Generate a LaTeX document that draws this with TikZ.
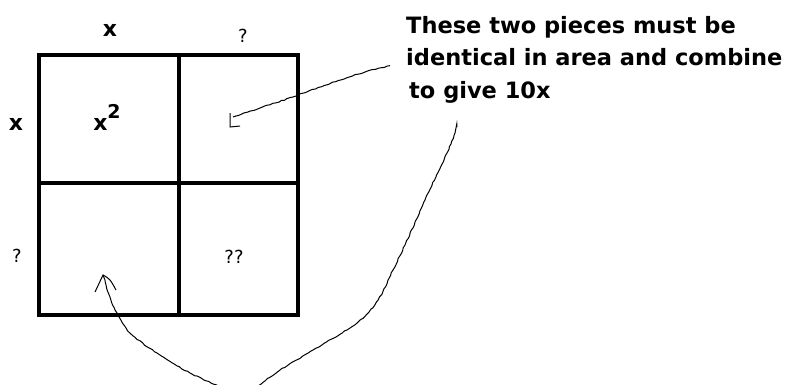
\documentclass[tikz,border=0pt]{standalone}
\usepackage{fontspec}
\setsansfont{DejaVu Sans}
\usetikzlibrary{positioning, decorations.pathmorphing}

\begin{document}
\begin{tikzpicture}[x=1pt, y=-1pt,
    grid/.style={line width=4pt},
    side/.style={font=\sffamily\bfseries\fontsize{22}{22}\selectfont, inner sep=0pt},
    qmark/.style={font=\sffamily\fontsize{18}{18}\selectfont, inner sep=0pt},
    note/.style={font=\sffamily\bfseries\fontsize{22.5}{32.5}\selectfont, align=left, inner sep=0pt},
    wobbly/.style={line width=1pt, decorate,
                   decoration={random steps, segment length=3pt, amplitude=0.5pt}},
    headline/.style={line width=1pt}
  ]
  \useasboundingbox (0,0) rectangle (786,384);
  \clip (0,0) rectangle (786,384);

  % the square, cut in four
  \draw[grid] (39,55) rectangle (298,315);
  \draw[grid] (179,55) -- (179,315);
  \draw[grid] (39,183) -- (298,183);

  % cells
  \node[side] (tl) at (107,117) {x\raisebox{1.0ex}{\fontsize{19}{19}\selectfont 2}};
  \coordinate (tr) at (238,119);
  \coordinate (bl) at (109,249);
  \node[qmark] (br) at (234,257) {??};

  % side lengths
  \node[side] (topx) at (110,30) {x};
  \node[qmark] (topq) at (243,36) {?};
  \node[side] (leftx) at (16,124) {x};
  \node[qmark] (leftq) at (17,256) {?};

  % remark
  \node[note, anchor=north west] (note) at (406,16)
    {These two pieces must be\\identical in area and combine\\\hspace{3pt}to give 10x};

  % arrow to the top right piece
  \coordinate (a1) at ([xshift=-16pt,yshift=-6pt]note.west);
  \coordinate (tip1) at ([shift={(-5,-2)}]tr);
  \draw[wobbly] (a1) .. controls (360,72) and (322,86) .. (293,97) -- (tip1);
  \draw[headline] ([shift={(-3,-4)}]tip1) -- ([shift={(-3,10)}]tip1) -- ([shift={(7,9)}]tip1);

  % arrow to the bottom left piece
  \coordinate (b1) at (457,127);
  \coordinate (tip2) at ([shift={(-6,26)}]bl);
  \draw[wobbly] plot[smooth, tension=0.55] coordinates {(b1) (447,153) (425,200) (405,245)
    (393,270) (378,300) (357,323) (313,350) (280,370) (250,390) (225,388) (190,373)
    (157,353) (130,333) (117,313) (110,297) (tip2)};
  \draw[headline] (95,292) -- (tip2) .. controls (110,279) .. (116,290);

\end{tikzpicture}
\end{document}
